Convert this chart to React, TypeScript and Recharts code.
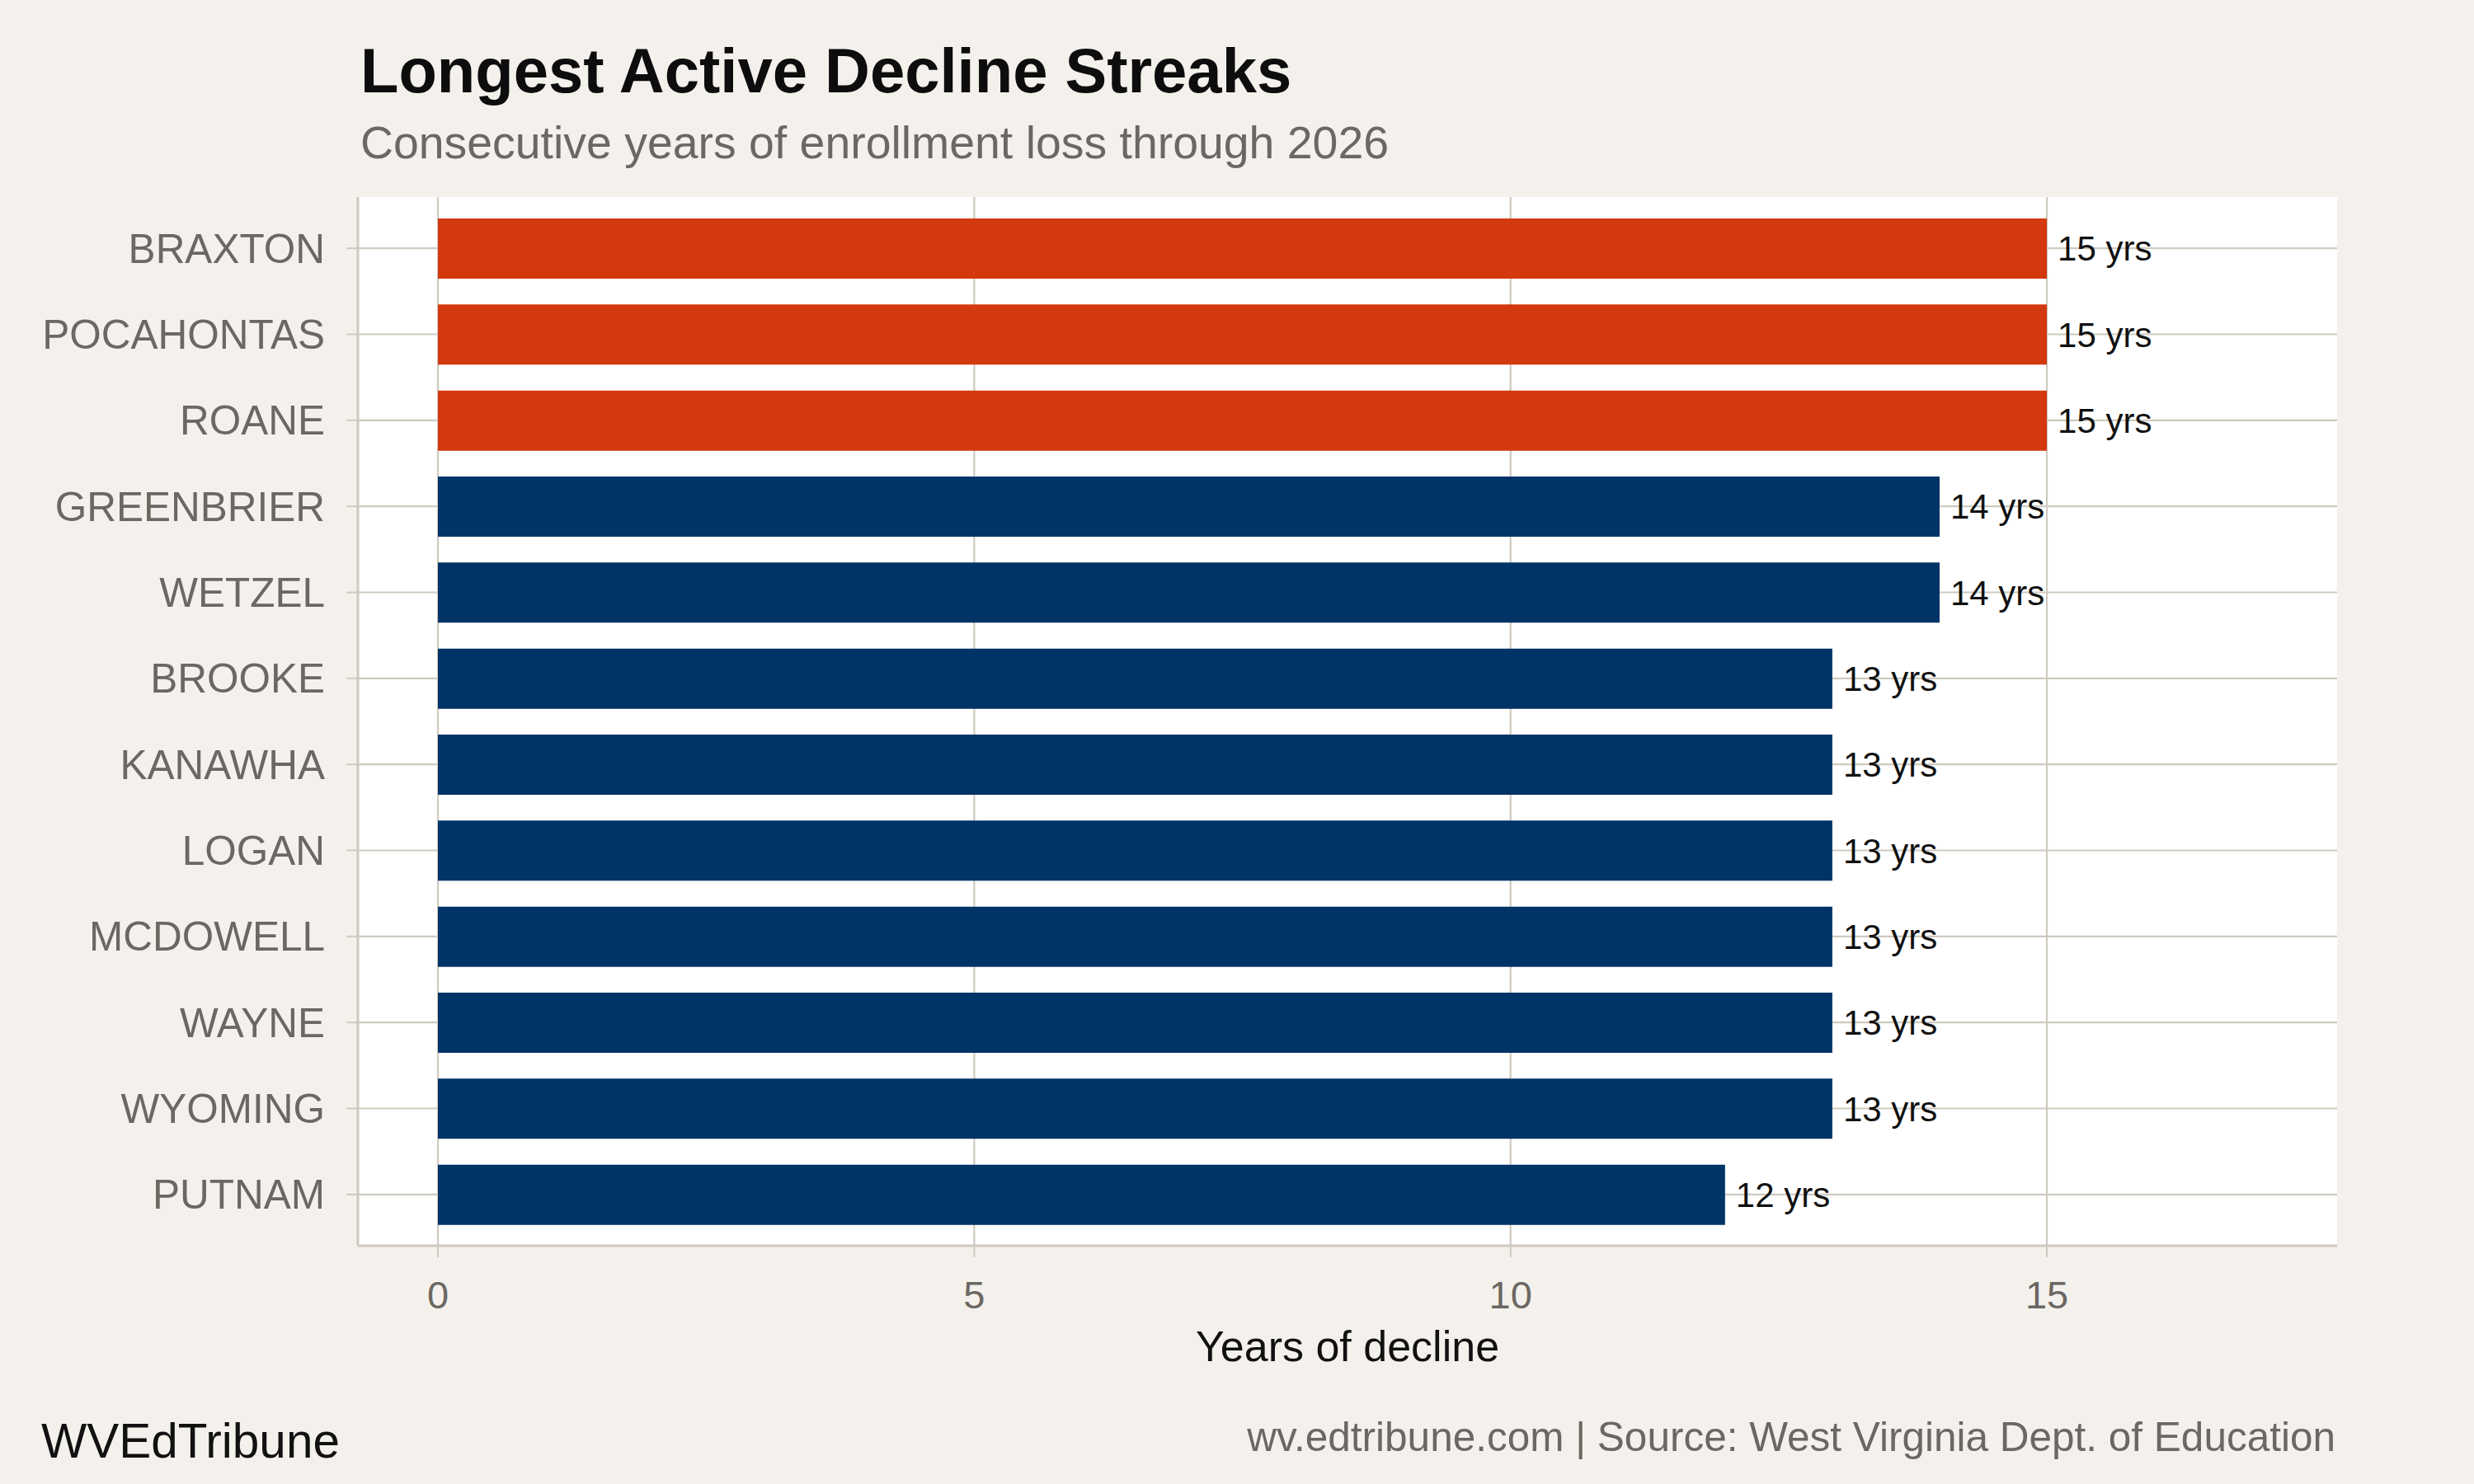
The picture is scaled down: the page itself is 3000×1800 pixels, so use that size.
import React from 'react'
import { BarChart, Bar, XAxis, YAxis, CartesianGrid, Cell, LabelList } from 'recharts'

const counties = [
  'BRAXTON',
  'POCAHONTAS',
  'ROANE',
  'GREENBRIER',
  'WETZEL',
  'BROOKE',
  'KANAWHA',
  'LOGAN',
  'MCDOWELL',
  'WAYNE',
  'WYOMING',
  'PUTNAM',
]
const streakYears = [15, 15, 15, 14, 14, 13, 13, 13, 13, 13, 13, 12]
const xTicks = [0, 5, 10, 15]

const BG = '#F4F1EC'
const GRID = '#CFC9C0'
const MUTED = '#6B6762'
const INK = '#111111'
const HIGHLIGHT = '#D3390E'
const NAVY = '#003366'
const FONT = '"Liberation Sans", Arial, Helvetica, sans-serif'

const data = counties.map((county, i) => ({ county, years: streakYears[i] }))
const maxYears = Math.max(...streakYears)

export default function App() {
  return (
    <div
      style={{
        position: 'absolute',
        left: 0,
        top: 0,
        width: 3000,
        height: 1800,
        background: BG,
        fontFamily: FONT,
      }}
    >
      <BarChart
        layout="vertical"
        width={3000}
        height={1800}
        data={data}
        margin={{ top: 239, right: 166, bottom: 139, left: 34 }}
        style={{ position: 'absolute', left: 0, top: 0 }}
      >
        <CartesianGrid fill="#ffffff" stroke={GRID} strokeWidth={2.2} syncWithTicks />
        <XAxis
          type="number"
          domain={[-0.746, 17.706]}
          ticks={xTicks}
          allowDataOverflow
          height={150}
          tick={{ fontSize: 47, fill: MUTED, fontFamily: FONT }}
          tickSize={14}
          tickMargin={29}
          tickLine={{ stroke: GRID, strokeWidth: 2 }}
          axisLine={{ stroke: GRID, strokeWidth: 3 }}
        />
        <YAxis
          type="category"
          dataKey="county"
          width={400}
          padding={{ top: 10, bottom: 10 }}
          tick={{ fontSize: 49.5, fill: MUTED, fontFamily: FONT }}
          tickSize={14}
          tickMargin={26}
          tickLine={{ stroke: GRID, strokeWidth: 2 }}
          axisLine={{ stroke: GRID, strokeWidth: 3 }}
          interval={0}
        />
        <Bar dataKey="years" barSize={73} isAnimationActive={false}>
          {data.map((d, i) => (
            <Cell key={`cell-${i}`} fill={d.years === maxYears ? HIGHLIGHT : NAVY} />
          ))}
          <LabelList
            dataKey="years"
            position="right"
            offset={13}
            formatter={(v: any) => `${v} yrs`}
            style={{ fontSize: 42, fill: INK, fontFamily: FONT }}
            isAnimationActive={false}
          />
        </Bar>
      </BarChart>

      <svg
        width={3000}
        height={1800}
        style={{ position: 'absolute', left: 0, top: 0, pointerEvents: 'none' }}
      >
        <text x={437} y={112} fontSize={76} fontWeight={700} fill="#0D0D0D" fontFamily={FONT}>
          Longest Active Decline Streaks
        </text>
        <text x={437} y={192} fontSize={55.4} fill={MUTED} fontFamily={FONT}>
          Consecutive years of enrollment loss through 2026
        </text>
        <text x={1634} y={1651} fontSize={52} fill={INK} textAnchor="middle" fontFamily={FONT}>
          Years of decline
        </text>
        <text x={50} y={1768} fontSize={58.5} fill={INK} fontFamily={FONT}>
          WVEdTribune
        </text>
        <text x={2832} y={1760} fontSize={49.5} fill={MUTED} textAnchor="end" fontFamily={FONT}>
          wv.edtribune.com | Source: West Virginia Dept. of Education
        </text>
      </svg>
    </div>
  )
}
